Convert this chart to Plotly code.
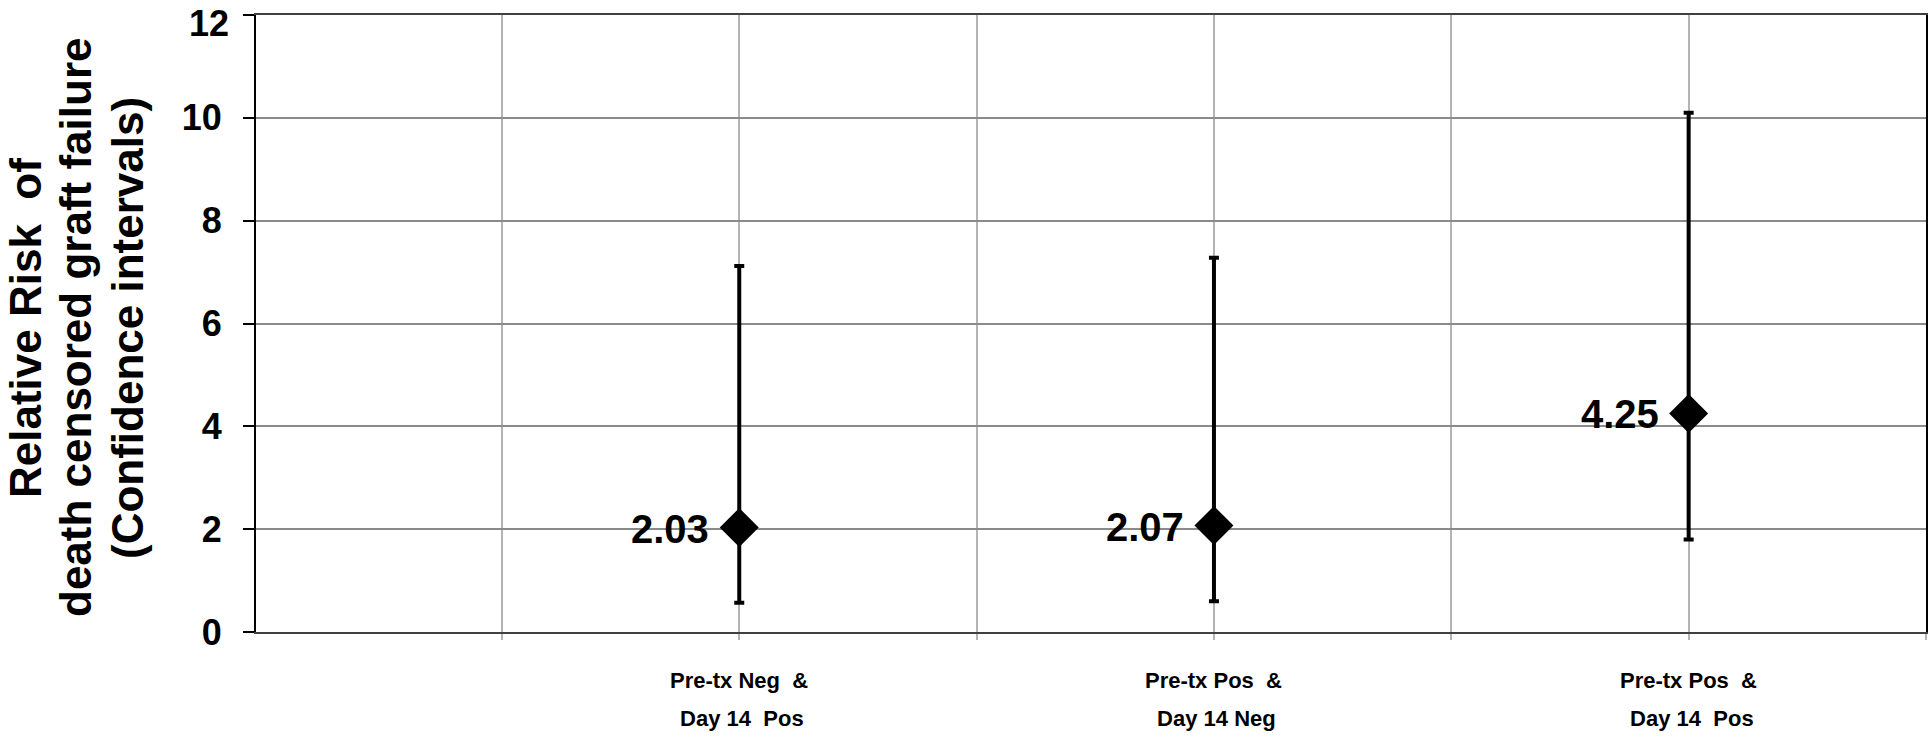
import plotly.graph_objects as go

NB = "\u00a0"
categories = [
    f"Pre-tx Neg{NB}{NB}&<br>{NB}Day 14{NB}{NB}Pos",
    f"Pre-tx Pos{NB}{NB}&<br>{NB}Day 14 Neg",
    f"Pre-tx Pos{NB}{NB}&<br>{NB}Day 14{NB}{NB}Pos",
]
x_pos = [1, 2, 3]
relative_risk = [2.03, 2.07, 4.25]
ci_lower = [0.57, 0.60, 1.80]
ci_upper = [7.12, 7.28, 10.10]
y_ticks = [0, 2, 4, 6, 8, 10, 12]
title_lines = [f"Relative Risk{NB}{NB}of", "death censored graft failure", "(Confidence intervals)"]

err_plus = [u - v for u, v in zip(ci_upper, relative_risk)]
err_minus = [v - l for v, l in zip(relative_risk, ci_lower)]

FONT = "Liberation Sans, Arial, sans-serif"

W, H = 1929, 739
plot_left, plot_right, plot_top, plot_bottom = 256, 1926, 15, 632
plot_w = plot_right - plot_left
plot_h = plot_bottom - plot_top
TICKLEN, STANDOFF = 11, 14

fig = go.Figure()
fig.add_trace(go.Scatter(
    x=x_pos, y=relative_risk, mode="markers",
    marker=dict(symbol="diamond", size=30, color="black"),
    error_y=dict(type="data", symmetric=False, array=err_plus, arrayminus=err_minus,
                 color="black", thickness=4, width=5),
    showlegend=False, cliponaxis=False,
))

for xv, yv in zip(x_pos, relative_risk):
    fig.add_annotation(x=xv, y=yv, text=f"<b>{yv:.2f}</b>", showarrow=False,
                       xanchor="right", yanchor="middle", xshift=-28, yshift=-1,
                       font=dict(family=FONT, size=40, color="black"))

# category labels, two lines each, placed under the axis
for xv, cat in zip(x_pos, categories):
    for py, line in zip([680, 718], cat.split("<br>")):
        fig.add_annotation(x=xv, xref="x", yref="paper", y=(plot_bottom - py) / plot_h,
                           text=f"<b>{line}</b>", showarrow=False,
                           xanchor="center", yanchor="middle",
                           font=dict(family=FONT, size=22, color="black"))

tickvals = [0.5, 1, 1.5, 2, 2.5, 3, 3.5]

fig.update_xaxes(
    range=[-0.018, 3.5], tickvals=tickvals, ticktext=[""] * len(tickvals),
    showgrid=True, gridcolor="#b4b4b4", gridwidth=1.5,
    showline=True, linecolor="#404040", linewidth=2, mirror=True,
    ticks="outside", ticklen=6, tickcolor="#b4b4b4", tickwidth=1.5,
    zeroline=False, automargin=False,
)
# top tick label drawn as an annotation nudged down so it stays inside the page
top_tick = y_ticks[-1]
fig.update_yaxes(
    range=[0, 12], tickvals=y_ticks,
    ticktext=[f"<b>{t}</b>" if t != top_tick else "" for t in y_ticks],
    showgrid=True, gridcolor="#8a8a8a", gridwidth=2,
    showline=True, linecolor="black", linewidth=2, mirror=True,
    ticks="outside", ticklen=TICKLEN, tickcolor="black", tickwidth=2,
    tickfont=dict(family=FONT, size=36, color="black"),
    ticklabelstandoff=STANDOFF, zeroline=False, automargin=False,
)
fig.add_annotation(xref="paper", yref="y", x=0, y=top_tick, text=f"<b>{top_tick}</b>",
                   showarrow=False, xanchor="right", yanchor="middle", borderpad=0,
                   xshift=-(TICKLEN + STANDOFF + 1), yshift=-8,
                   font=dict(family=FONT, size=36, color="black"))

for px, line in zip([25, 75, 127], title_lines):
    fig.add_annotation(
        xref="paper", yref="paper", x=(px - plot_left) / plot_w, y=(plot_bottom - 328) / plot_h,
        text=f"<b>{line}</b>", showarrow=False, textangle=-90,
        xanchor="center", yanchor="middle", align="center",
        font=dict(family=FONT, size=44, color="black"),
    )

fig.update_layout(
    width=W, height=H,
    margin=dict(l=plot_left, r=W - plot_right, t=plot_top, b=H - plot_bottom),
    plot_bgcolor="white", paper_bgcolor="white",
)

fig.write_html("out.html", config={"displayModeBar": False},
               post_script="document.body.style.margin='0';")
